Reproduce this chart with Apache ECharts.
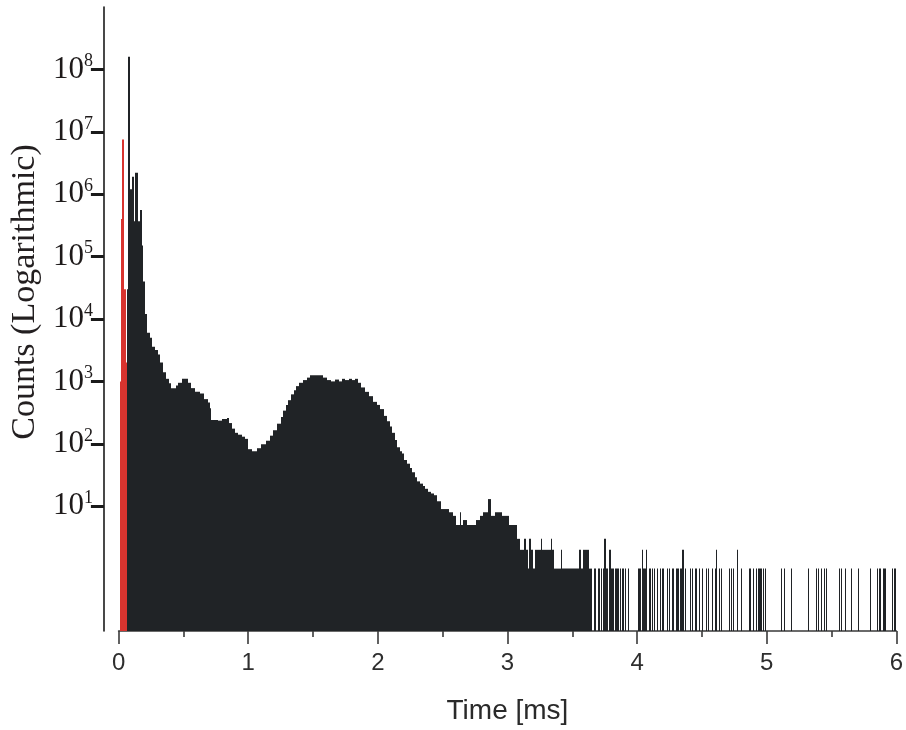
<!DOCTYPE html>
<html><head><meta charset="utf-8">
<script src="https://cdn.jsdelivr.net/npm/echarts@6/dist/echarts.min.js"></script>
<style>html,body{margin:0;padding:0;background:#fff}#c{width:906px;height:730px}</style>
</head><body><div id="c"></div>
<script>
// ---- data (time in ms, counts) ----
const redEdges  = [0.010, 0.020, 0.026, 0.042, 0.054, 0.062];
const redCounts = [1e3, 4e5, 7.5e6, 3e4, 2e3];

const mainEdges = [0.064,0.074,0.088,0.104,0.115,0.130,0.150,0.166,0.180,0.192,
  0.205,0.222,0.240,0.258,0.280,0.305,0.322,0.345,0.365,0.385,
  0.405,0.440,0.460,0.490,0.535,0.560,0.590,0.625,0.660,0.690,
  0.705,0.716,0.765,0.800,0.835,0.855,0.875,0.895,0.925,0.950,
  0.975,0.998,1.030,1.065,1.100,1.135,1.165,1.195,1.220,1.250,
  1.270,1.290,1.310,1.330,1.350,1.370,1.390,1.420,1.450,1.480,
  1.580,1.610,1.640,1.670,1.700,1.720,1.750,1.780,1.800,1.820,
  1.845,1.870,1.900,1.930,1.960,1.990,2.020,2.045,2.070,2.090,
  2.110,2.130,2.150,2.170,2.190,2.205,2.225,2.245,2.265,2.285,
  2.305,2.325,2.345,2.365,2.385,2.410,2.435,2.460,2.490,2.550,
  2.580,2.600,2.634,2.644,2.660,2.690,2.760,2.785,2.810,2.853,
  2.872,2.905,2.960,3.015,3.070,3.100,3.130,3.140,3.160,3.170,
  3.180,3.200,3.210,3.262,3.270,3.335,3.345,3.360,3.412,3.420,
  3.550,3.570,3.585,3.628,3.650];
const mainCounts = [3e4,1.6e8,1.2e6,1.9e6,3.7e5,2.2e6,3.7e5,5.6e5,1.5e5,4e4,
  1.2e4,6e3,5e3,3.6e3,3.2e3,2.7e3,2e3,1.4e3,1.1e3,930,
  780,860,950,1100,950,780,680,640,520,460,
  370,240,235,250,260,215,175,150,140,130,
  120,82,76,85,98,112,135,165,210,270,
  340,420,500,620,720,840,950,1050,1150,1250,
  1150,1050,1000,1070,1000,1100,1050,1100,1050,1100,
  950,800,680,580,470,420,360,280,230,190,
  150,115,88,76,70,55,48,41,35,29,
  25,23,21,19,17,16,15,12,9,8,
  7,5,8,5,6,5,6,7,8,13,
  7,8,7,5,3,2,3,2,1,3,
  2,1,2,3,2,3,2,1,2,1,
  2,1,2,1];

const tailTimes = [3.664,3.672,3.702,3.723,3.735,3.748,3.757,3.766,3.787,3.795,3.810,3.828,3.838,3.848,3.869,3.887,3.907,3.927,
  4.009,4.017,4.025,4.035,4.045,4.053,4.061,4.071,4.090,4.099,
  4.112,4.132,4.150,4.176,4.196,4.227,4.245,4.270,4.278,
  4.304,4.312,4.334,4.350,4.368,
  4.406,4.424,4.450,4.475,4.501,
  4.534,4.547,4.577,4.598,4.611,4.629,4.649,
  4.706,4.721,4.739,4.772,4.798,
  4.867,4.892,4.918,4.936,4.951,4.969,4.987,
  5.110,5.130,5.186,5.320,5.378,5.397,5.417,5.443,5.455,5.560,5.575,5.601,5.647,5.704,5.796,5.852,5.870,5.898,5.908,5.967,5.985];
const tailCounts = [1,1,1,1,1,3,1,1,2,1,1,1,1,1,1,1,1,1,
  1,1,1,2,1,1,1,2,1,1,
  1,1,1,1,1,1,1,1,1,
  1,1,1,2,1,
  1,1,1,1,1,
  1,1,1,1,2,1,1,
  1,1,1,2,1,
  1,1,1,1,1,1,1,
  1,1,1,1,1,1,1,1,1,1,1,1,1,1,1,1,1,1,1,1,1];
const tailBinWidth = 0.009;

const xRange = [0, 6];
const yRange = [0.1, 1e9];
const yTickValues = [1e1, 1e2, 1e3, 1e4, 1e5, 1e6, 1e7, 1e8];

// ---- build ----
function segs(edges, counts) { return counts.map((c, i) => [edges[i], edges[i + 1], c]); }
const redData = segs(redEdges, redCounts);
const mainData = segs(mainEdges, mainCounts);
const tailData = tailTimes.map((t, i) => [t, t + tailBinWidth, tailCounts[i]]);

function renderItem(params, api) {
  const top = api.coord([api.value(0), api.value(2)]);
  const bot = api.coord([api.value(1), yRange[0]]);
  const x0 = Math.round(top[0]);
  const x1 = Math.max(x0 + 1, Math.round(bot[0]));
  return {
    type: 'rect',
    shape: { x: x0, y: top[1], width: x1 - x0, height: bot[1] - top[1] },
    style: { fill: api.visual('color') }
  };
}

const serif = '"Liberation Serif", "Times New Roman", serif';
const sans = '"Liberation Sans", Arial, sans-serif';

const chart = echarts.init(document.getElementById('c'), null, { renderer: 'canvas' });
chart.setOption({
  animation: false,
  backgroundColor: '#ffffff',
  grid: { left: 117.7, right: 6.7, top: 7, bottom: 95, containLabel: false },
  xAxis: {
    type: 'value', min: xRange[0], max: xRange[1], interval: 1,
    name: 'Time [ms]', nameLocation: 'middle', nameGap: 66,
    nameTextStyle: { fontFamily: sans, fontSize: 28, color: '#2a2a2a' },
    axisLine: { show: true, onZero: false, lineStyle: { color: '#3a3a3a', width: 1.6 } },
    axisTick: { show: true, length: 13, lineStyle: { color: '#3a3a3a', width: 1.6 } },
    minorTick: { show: true, splitNumber: 2, length: 6, lineStyle: { color: '#3a3a3a', width: 1.6 } },
    axisLabel: { margin: 20, fontFamily: sans, fontSize: 24, color: '#2e2e2e' },
    splitLine: { show: false }
  },
  yAxis: {
    type: 'log', logBase: 10, min: yRange[0], max: yRange[1], offset: 14.7,
    name: 'Counts (Logarithmic)', nameLocation: 'middle', nameRotate: 90, nameGap: 43,
    nameTextStyle: { fontFamily: serif, fontSize: 34, color: '#231f20', padding: [0, 0, 0, 54] },
    axisLine: { show: true, onZero: false, lineStyle: { color: '#1a1a1a', width: 1.6 } },
    axisTick: { show: true, length: 13, customValues: yTickValues, lineStyle: { color: '#1a1a1a', width: 3 } },
    minorTick: { show: false },
    axisLabel: {
      margin: 11, customValues: yTickValues,
      formatter: v => '{b|10}{e|' + Math.round(Math.log10(v)) + '}',
      rich: {
        b: { fontFamily: serif, fontSize: 31, color: '#1e1a1a', lineHeight: 34 },
        e: { fontFamily: serif, fontSize: 18, color: '#1e1a1a', lineHeight: 12, verticalAlign: 'top' }
      }
    },
    splitLine: { show: false }
  },
  series: [
    { type: 'custom', name: 'main', renderItem, data: mainData, encode: { x: [0, 1], y: 2 }, itemStyle: { color: '#202326' }, clip: true },
    { type: 'custom', name: 'tail', renderItem, data: tailData, encode: { x: [0, 1], y: 2 }, itemStyle: { color: '#202326' }, clip: true },
    { type: 'custom', name: 'red', renderItem, data: redData, encode: { x: [0, 1], y: 2 }, itemStyle: { color: '#d8342f' }, clip: true }
  ]
});
</script></body></html>
